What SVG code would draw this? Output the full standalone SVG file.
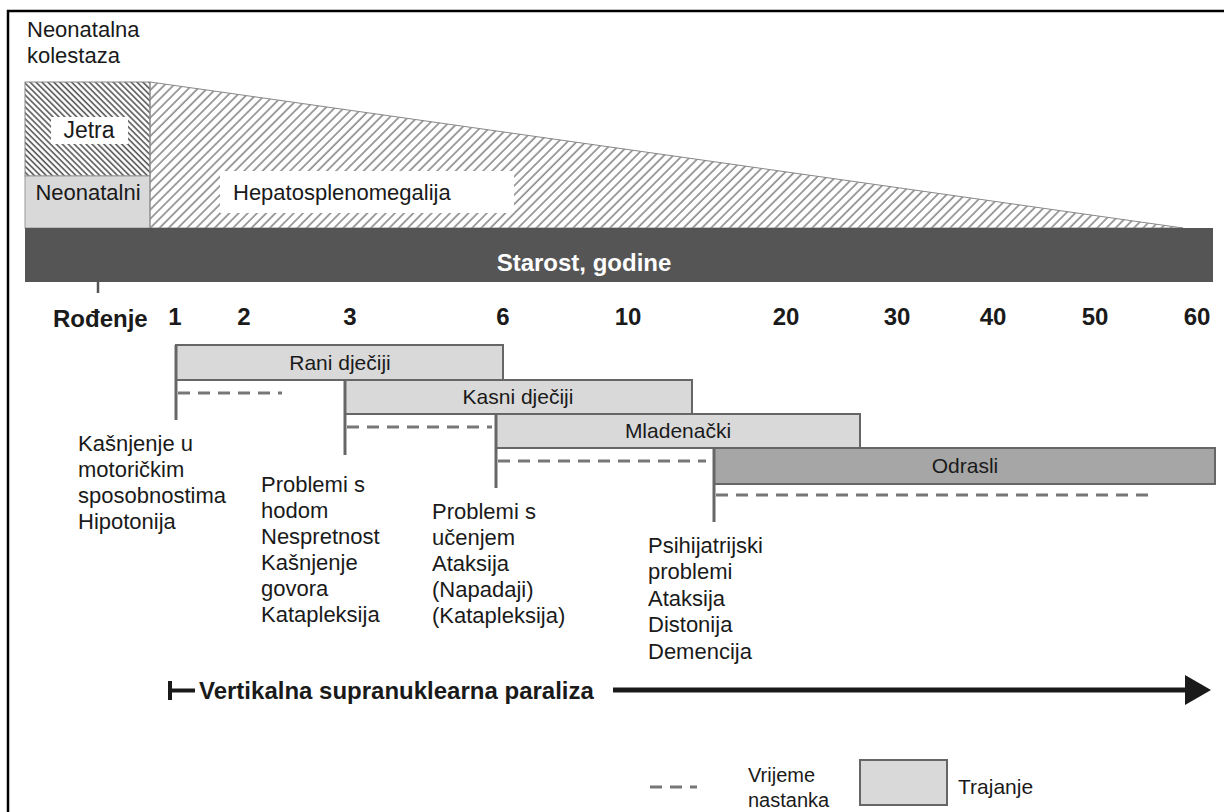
<svg xmlns="http://www.w3.org/2000/svg" width="1224" height="812" viewBox="0 0 1224 812">
<style>
text{font-family:"Liberation Sans",Arial,sans-serif;fill:#1a1a1a}
.t{font-size:22px}
.b{font-size:24px;font-weight:bold}
.lbl{font-size:21px;text-anchor:middle}
.box{fill:#d9d9d9;stroke:#666;stroke-width:2}
.vl{stroke:#666;stroke-width:3}
.dash{stroke:#777;stroke-width:3;stroke-dasharray:12 8;fill:none}
</style>
<defs>
<pattern id="fwd" patternUnits="userSpaceOnUse" width="6.5" height="6.5" patternTransform="rotate(45)">
<line x1="1" y1="0" x2="1" y2="6.5" stroke="#8a8a8a" stroke-width="1.6"/>
</pattern>
<pattern id="bwd" patternUnits="userSpaceOnUse" width="4.2" height="4.2" patternTransform="rotate(-45)">
<line x1="1" y1="0" x2="1" y2="4.2" stroke="#555" stroke-width="1.6"/>
</pattern>
</defs>
<rect width="1224" height="812" fill="#fff"/>
<path d="M8 826 V11 H1240" fill="none" stroke="#000" stroke-width="2.5"/>

<g id="cholestasis">
<text class="t" x="27" y="37" font-size="21">Neonatalna</text>
<text class="t" x="27" y="63" font-size="21">kolestaza</text>
</g>

<g id="liver">
<rect x="25" y="82" width="125" height="94" fill="url(#bwd)" stroke="#888" stroke-width="1"/>
<rect x="51" y="117" width="77" height="27" fill="#fff"/>
<text x="89" y="138" style="font-size:23px;text-anchor:middle">Jetra</text>
</g>

<g id="neonatal">
<rect x="25" y="176" width="125" height="52" fill="#d9d9d9" stroke="#999" stroke-width="1"/>
<text class="t" x="88" y="200" style="text-anchor:middle">Neonatalni</text>
</g>

<g id="hepatosplenomegaly">
<polygon points="150,82 1183,228 150,228" fill="url(#fwd)" stroke="#888" stroke-width="1"/>
<rect x="220" y="171" width="294" height="42" fill="#fff"/>
<text class="t" x="233" y="200">Hepatosplenomegalija</text>
</g>

<g id="age-axis">
<rect x="25" y="228" width="1188" height="54" fill="#555"/>
<text class="b" x="584" y="271" style="fill:#fff;text-anchor:middle">Starost, godine</text>
<line x1="98" y1="282" x2="98" y2="293" stroke="#555" stroke-width="2.5"/>
<text class="b" x="53" y="327">Rođenje</text>
<g class="b" style="text-anchor:middle">
<text class="b" x="175" y="325" text-anchor="middle">1</text>
<text class="b" x="244" y="325" text-anchor="middle">2</text>
<text class="b" x="350" y="325" text-anchor="middle">3</text>
<text class="b" x="503" y="325" text-anchor="middle">6</text>
<text class="b" x="628" y="325" text-anchor="middle">10</text>
<text class="b" x="786" y="325" text-anchor="middle">20</text>
<text class="b" x="897" y="325" text-anchor="middle">30</text>
<text class="b" x="993" y="325" text-anchor="middle">40</text>
<text class="b" x="1095" y="325" text-anchor="middle">50</text>
<text class="b" x="1197" y="325" text-anchor="middle">60</text>
</g>
</g>

<g id="early-childhood">
<rect class="box" x="176" y="345" width="327" height="35"/>
<text class="lbl" x="340" y="370">Rani dječiji</text>
</g>
<g id="late-childhood">
<rect class="box" x="345" y="380" width="347" height="34"/>
<text class="lbl" x="518" y="404">Kasni dječiji</text>
</g>
<g id="juvenile">
<rect class="box" x="496" y="414" width="364" height="34"/>
<text class="lbl" x="678" y="438">Mladenački</text>
</g>
<g id="adult">
<rect class="box" x="714" y="448" width="501" height="36" fill="#a6a6a6" style="fill:#a6a6a6"/>
<text class="lbl" x="965" y="473">Odrasli</text>
</g>

<g id="connectors">
<line class="vl" x1="176" y1="345" x2="176" y2="420"/>
<line class="vl" x1="345" y1="380" x2="345" y2="455"/>
<line class="vl" x1="496" y1="414" x2="496" y2="488"/>
<line class="vl" x1="714" y1="448" x2="714" y2="522"/>
<line class="dash" x1="178" y1="393" x2="282" y2="393"/>
<line class="dash" x1="347" y1="427" x2="492" y2="427"/>
<line class="dash" x1="498" y1="461" x2="706" y2="461"/>
<line class="dash" x1="716" y1="495" x2="1150" y2="495"/>
<path d="M170 681 V700 M170 690.5 H195" stroke="#1a1a1a" stroke-width="4" fill="none"/>
<line x1="613" y1="690" x2="1188" y2="690" stroke="#1a1a1a" stroke-width="5"/>
<polygon points="1185,675 1211,690 1185,705" fill="#1a1a1a"/>
</g>

<g id="symptoms-1">
<text class="t" x="78" y="451">Kašnjenje u</text>
<text class="t" x="78" y="477">motoričkim</text>
<text class="t" x="78" y="503">sposobnostima</text>
<text class="t" x="78" y="529">Hipotonija</text>
</g>
<g id="symptoms-2">
<text class="t" x="261" y="492">Problemi s</text>
<text class="t" x="261" y="518">hodom</text>
<text class="t" x="261" y="544">Nespretnost</text>
<text class="t" x="261" y="570">Kašnjenje</text>
<text class="t" x="261" y="596">govora</text>
<text class="t" x="261" y="622">Katapleksija</text>
</g>
<g id="symptoms-3">
<text class="t" x="432" y="519">Problemi s</text>
<text class="t" x="432" y="545">učenjem</text>
<text class="t" x="432" y="571">Ataksija</text>
<text class="t" x="432" y="597">(Napadaji)</text>
<text class="t" x="432" y="623">(Katapleksija)</text>
</g>
<g id="symptoms-4">
<text class="t" x="648" y="553">Psihijatrijski</text>
<text class="t" x="648" y="579">problemi</text>
<text class="t" x="648" y="606">Ataksija</text>
<text class="t" x="648" y="632">Distonija</text>
<text class="t" x="648" y="659">Demencija</text>
</g>

<g id="vertical-palsy">
<text class="b" x="199" y="699">Vertikalna supranuklearna paraliza</text>
</g>

<g id="legend">
<line class="dash" x1="650" y1="787" x2="697" y2="787"/>
<text x="748" y="782" style="font-size:20px">Vrijeme</text>
<text x="748" y="807" style="font-size:20px">nastanka</text>
<rect class="box" x="860" y="760" width="87" height="45"/>
<text x="958" y="794" style="font-size:21px">Trajanje</text>
</g>
</svg>
